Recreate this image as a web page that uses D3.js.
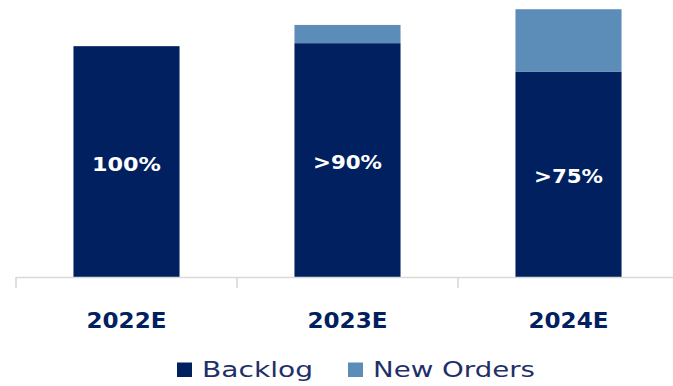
<!DOCTYPE html>
<html>
<head>
<meta charset="utf-8">
<script src="https://cdn.jsdelivr.net/npm/d3@7"></script>
<style>
  html, body { margin: 0; padding: 0; background: #ffffff; }
  svg { display: block; }
</style>
</head>
<body>
<div id="chart"></div>
<script>
// Revenue coverage by year, indexed to 2022E = 100
const categories = ["2022E", "2023E", "2024E"];
const backlog = [100, 101.3, 89.0];
const newOrders = [0, 7.9, 27.0];
const barLabels = ["100%", ">90%", ">75%"];
const seriesNames = ["Backlog", "New Orders"];

const W = 673, H = 386;
const navy = "#002060";
const steel = "#5b8db8";
const colors = [navy, steel];

const svg = d3.select("#chart").append("svg")
  .attr("width", W).attr("height", H);

const baseY = 277;
const x = d3.scaleBand()
  .domain(categories)
  .range([16, 679])
  .paddingInner(0.52)
  .paddingOuter(0.26);
const step = x.step();
const y = d3.scaleLinear().domain([0, 120]).range([baseY, 0]);

const rows = categories.map((c, i) => ({ cat: c, Backlog: backlog[i], "New Orders": newOrders[i] }));
const stacked = d3.stack().keys(seriesNames)(rows);

// stacked bars
svg.append("g").selectAll("g")
  .data(stacked)
  .join("g")
  .attr("fill", (d, i) => colors[i])
  .selectAll("rect")
  .data(d => d.filter(p => p[1] - p[0] > 0))
  .join("rect")
  .attr("x", d => x(d.data.cat))
  .attr("y", d => y(d[1]))
  .attr("width", x.bandwidth())
  .attr("height", d => y(d[0]) - y(d[1]));

// value labels inside the backlog segments
svg.append("g").selectAll("text")
  .data(categories)
  .join("text")
  .attr("x", c => x(c) + x.bandwidth() / 2)
  .attr("y", (c, i) => (y(0) + y(backlog[i])) / 2 + 9)
  .attr("text-anchor", "middle")
  .attr("fill", "#ffffff")
  .attr("font-family", "DejaVu Sans, sans-serif")
  .attr("font-weight", "bold")
  .attr("font-size", 19)
  .attr("textLength", 69)
  .attr("lengthAdjust", "spacingAndGlyphs")
  .text((c, i) => barLabels[i]);

// category axis: baseline with ticks between categories
const axisG = svg.append("g").attr("class", "x-axis");
axisG.append("line")
  .attr("x1", x.range()[0]).attr("x2", W)
  .attr("y1", baseY + 0.5).attr("y2", baseY + 0.5)
  .attr("stroke", "#d9d9d9").attr("stroke-width", 1.6);
const bounds = categories.map(c => x(c) - x.paddingOuter() * step);
axisG.selectAll("line.tick")
  .data(bounds)
  .join("line")
  .attr("class", "tick")
  .attr("x1", d => d).attr("x2", d => d)
  .attr("y1", baseY).attr("y2", baseY + 11)
  .attr("stroke", "#d9d9d9").attr("stroke-width", 1.6);

const labelAxis = d3.axisBottom(x).tickSize(0).tickPadding(0);
const la = svg.append("g")
  .attr("transform", `translate(0,${baseY})`)
  .call(labelAxis);
la.select(".domain").remove();
la.selectAll("text")
  .attr("y", 51)
  .attr("dy", 0)
  .attr("fill", navy)
  .attr("font-family", "DejaVu Sans, sans-serif")
  .attr("font-weight", "bold")
  .attr("font-size", 21.5)
  .attr("textLength", 80)
  .attr("lengthAdjust", "spacingAndGlyphs");

// legend
const legendItems = [
  { name: seriesNames[0], color: colors[0], sx: 177, tx: 202, tw: 111 },
  { name: seriesNames[1], color: colors[1], sx: 348, tx: 373, tw: 162 }
];
const lg = svg.append("g").attr("class", "legend");
lg.selectAll("rect")
  .data(legendItems)
  .join("rect")
  .attr("x", d => d.sx).attr("y", 362.5)
  .attr("width", 15).attr("height", 14.5)
  .attr("fill", d => d.color);
lg.selectAll("text")
  .data(legendItems)
  .join("text")
  .attr("x", d => d.tx).attr("y", 377)
  .attr("fill", "#1f3068")
  .attr("font-family", "DejaVu Sans, sans-serif")
  .attr("font-size", 21.5)
  .attr("textLength", d => d.tw)
  .attr("lengthAdjust", "spacingAndGlyphs")
  .text(d => d.name);
</script>
</body>
</html>
